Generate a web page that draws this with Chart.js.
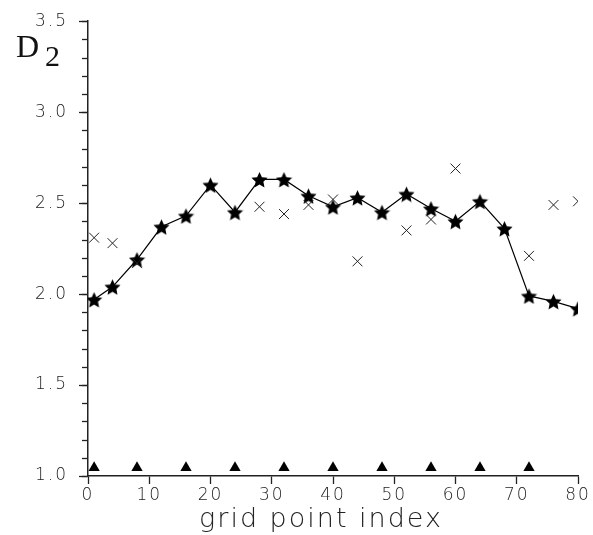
<!DOCTYPE html>
<html>
<head>
<meta charset="utf-8">
<script src="https://cdn.jsdelivr.net/npm/chart.js@4/dist/chart.umd.min.js"></script>
<style>
  html, body { margin: 0; padding: 0; background: #fff; }
  #wrap { width: 593px; height: 535px; position: relative; }
</style>
</head>
<body>
<div id="wrap"><canvas id="chart"></canvas></div>
<script>
// data
const starX = [1, 4, 8, 12, 16, 20, 24, 28, 32, 36, 40, 44, 48, 52, 56, 60, 64, 68, 72, 76, 80];
const starY = [1.97, 2.04, 2.19, 2.37, 2.43, 2.60, 2.45, 2.63, 2.63, 2.54, 2.48, 2.53, 2.45, 2.55, 2.47, 2.40, 2.51, 2.36, 1.99, 1.96, 1.92];

const crossX = [1, 4, 8, 28, 32, 36, 40, 44, 52, 56, 60, 72, 76, 80];
const crossY = [2.31, 2.28, 2.17, 2.48, 2.44, 2.49, 2.52, 2.18, 2.35, 2.41, 2.69, 2.21, 2.49, 2.51];

const triX = [1, 8, 16, 24, 32, 40, 48, 56, 64, 72];
const triY = [1.045, 1.045, 1.045, 1.045, 1.045, 1.045, 1.045, 1.045, 1.045, 1.045];

const yTicks = [1.0, 1.5, 2.0, 2.5, 3.0, 3.5];
const xTicks = [0, 10, 20, 30, 40, 50, 60, 70, 80];

function pts(xs, ys) {
  return xs.map((x, i) => ({ x: x, y: ys[i] }));
}

// filled five-pointed star marker
function makeStar(size) {
  const c = document.createElement("canvas");
  c.width = size;
  c.height = size;
  const g = c.getContext("2d");
  const cx = size / 2, cy = size / 2 + 1;
  const outer = size / 2, inner = outer * 0.48;
  g.beginPath();
  for (let i = 0; i < 10; i++) {
    const r = i % 2 === 0 ? outer : inner;
    const a = -Math.PI / 2 + i * Math.PI / 5;
    const px = cx + r * Math.cos(a), py = cy + r * Math.sin(a);
    if (i === 0) g.moveTo(px, py); else g.lineTo(px, py);
  }
  g.closePath();
  g.fillStyle = "#000";
  g.fill();
  return c;
}
const star = makeStar(17);

// wide letter spacing like the old plotter font
const spacing = {
  id: "spacing",
  beforeDraw(chart) {
    chart.ctx.letterSpacing = "2px";
  }
};

// minor ticks on the y axis, the D2 label and the x title
const extras = {
  id: "extras",
  afterDraw(chart) {
    const ctx = chart.ctx;
    const y = chart.scales.y;
    const left = chart.chartArea.left;
    ctx.save();
    ctx.strokeStyle = "#222";
    ctx.lineWidth = 1.3;
    for (let v = 1.0; v <= 3.5001; v += 0.1) {
      const py = Math.round(y.getPixelForValue(v)) + 0.5;
      ctx.beginPath();
      ctx.moveTo(left - 6, py);
      ctx.lineTo(left, py);
      ctx.stroke();
    }
    ctx.fillStyle = "#222";
    ctx.letterSpacing = "2px";
    ctx.font = "200 27px 'DejaVu Sans'";
    ctx.textAlign = "center";
    ctx.textBaseline = "alphabetic";
    ctx.fillText("grid point index", 321, 527);

    ctx.letterSpacing = "0px";
    ctx.textAlign = "left";
    ctx.fillStyle = "#111";
    ctx.font = "32px 'Liberation Serif'";
    ctx.fillText("D", 16, 57);
    ctx.font = "30px 'Liberation Serif'";
    ctx.fillText("2", 45, 66);
    ctx.restore();
  }
};

new Chart(document.getElementById("chart"), {
  type: "scatter",
  data: {
    datasets: [
      {
        label: "triangles",
        data: pts(triX, triY),
        pointStyle: "triangle",
        pointRadius: 6.5,
        backgroundColor: "#000",
        borderColor: "#000",
        borderWidth: 0,
        showLine: false,
      },
      {
        label: "crosses",
        data: pts(crossX, crossY),
        pointStyle: "crossRot",
        pointRadius: 7,
        borderColor: "#222",
        borderWidth: 1,
        showLine: false,
      },
      {
        label: "stars",
        data: pts(starX, starY),
        pointStyle: star,
        borderColor: "#000",
        borderWidth: 1.2,
        showLine: true,
        tension: 0,
      },
    ],
  },
  options: {
    responsive: true,
    maintainAspectRatio: false,
    animation: false,
    layout: { padding: { top: 5, right: 15, left: 0, bottom: 0 } },
    plugins: {
      legend: { display: false },
      tooltip: { enabled: false },
    },
    scales: {
      x: {
        type: "linear",
        min: 0,
        max: 80,
        afterBuildTicks: (s) => { s.ticks = xTicks.map((v) => ({ value: v })); },
        border: { color: "#222", width: 1.5 },
        grid: { drawOnChartArea: false, drawTicks: true, tickLength: 8, tickColor: "#222", tickWidth: 1.3 },
        ticks: {
          color: "#222",
          padding: 1,
          font: { family: "'DejaVu Sans'", size: 17, weight: 200 },
          maxRotation: 0,
        },
        afterFit: (s) => { s.height = 59; },
      },
      y: {
        type: "linear",
        min: 1.0,
        max: 3.5,
        afterBuildTicks: (s) => { s.ticks = yTicks.map((v) => ({ value: v })); },
        border: { color: "#222", width: 1.5 },
        grid: { drawOnChartArea: false, drawTicks: true, tickLength: 9, tickColor: "#222", tickWidth: 1.3 },
        ticks: {
          color: "#222",
          padding: 11,
          font: { family: "'DejaVu Sans'", size: 17, weight: 200 },
          callback: (v) => v.toFixed(1),
        },
        afterFit: (s) => { s.width = 88; },
      },
    },
  },
  plugins: [spacing, extras],
});
</script>
</body>
</html>
